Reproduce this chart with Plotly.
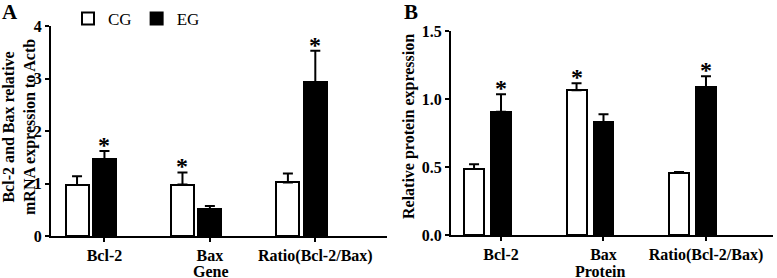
import numpy as np
import plotly.graph_objects as go

categories = ["Bcl-2", "Bax", "Ratio(Bcl-2/Bax)"]
groups = ["CG", "EG"]

# Panel A: mRNA expression
mrna_cg = [0.97, 0.98, 1.02]
mrna_cg_err = [0.17, 0.23, 0.17]
mrna_eg = [1.46, 0.51, 2.93]
mrna_eg_err = [0.16, 0.06, 0.60]
mrna_star_cg = [False, True, False]
mrna_star_eg = [True, False, True]

# Panel B: protein expression
prot_cg = [0.485, 1.064, 0.456]
prot_cg_err = [0.035, 0.051, 0.007]
prot_eg = [0.907, 0.830, 1.088]
prot_eg_err = [0.128, 0.057, 0.079]
prot_star_cg = [False, True, False]
prot_star_eg = [True, False, True]

FONT = "Liberation Serif, Times New Roman, serif"
W, H = 777, 278

fig = go.Figure()
xpos = np.arange(len(categories))


def add_panel(xref, yref, cg, cge, eg, ege, scg, seg, bw, off, showlegend):
    fig.add_trace(go.Bar(
        x=xpos + off, y=cg, width=bw, name=groups[0], showlegend=showlegend,
        marker=dict(color="white", line=dict(color="black", width=2)),
        error_y=dict(type="data", array=cge, arrayminus=[0] * len(cge), symmetric=False,
                     color="black", thickness=2, width=5),
        xaxis=xref, yaxis=yref))
    fig.add_trace(go.Bar(
        x=xpos, y=eg, width=bw, name=groups[1], showlegend=showlegend,
        marker=dict(color="black", line=dict(color="black", width=2)),
        error_y=dict(type="data", array=ege, arrayminus=[0] * len(ege), symmetric=False,
                     color="black", thickness=2, width=5),
        xaxis=xref, yaxis=yref))
    for i in range(len(categories)):
        for vals, errs, stars, dx in ((cg, cge, scg, off), (eg, ege, seg, 0.0)):
            if stars[i]:
                fig.add_annotation(x=xpos[i] + dx, y=vals[i] + errs[i], xref=xref, yref=yref,
                                   text="<b>*</b>", showarrow=False, yanchor="bottom", yshift=-9,
                                   font=dict(family=FONT, size=24, color="black"))


add_panel("x", "y", mrna_cg, mrna_cg_err, mrna_eg, mrna_eg_err,
          mrna_star_cg, mrna_star_eg, 0.218, -0.26, True)
add_panel("x2", "y2", prot_cg, prot_cg_err, prot_eg, prot_eg_err,
          prot_star_cg, prot_star_eg, 0.195, -0.263, False)

tickfont = dict(family=FONT, size=16, color="black")
titlefont = dict(family=FONT, size=16, color="black")

common_x = dict(tickmode="array", tickvals=list(xpos), ticktext=[f"<b>{c}</b>" for c in categories],
                showline=True, linecolor="black", linewidth=2, ticks="outside", ticklen=4,
                tickwidth=2, tickcolor="black", showgrid=False, zeroline=False,
                tickfont=tickfont, automargin=False, tickangle=0)
common_y = dict(showline=True, linecolor="black", linewidth=2, ticks="outside", ticklen=4,
                tickwidth=2, tickcolor="black", showgrid=False, zeroline=False,
                tickfont=tickfont, automargin=False)

fig.update_layout(
    width=W, height=H, margin=dict(l=0, r=0, t=0, b=0, autoexpand=False),
    paper_bgcolor="white", plot_bgcolor="white",
    barmode="overlay", bargap=0,
    font=dict(family=FONT, color="black"),
    xaxis=dict(domain=[51 / W, 387 / W], range=[-0.507, 2.68], anchor="y", **common_x),
    yaxis=dict(domain=[1 - 236 / H, 1 - 26 / H], range=[0, 4], anchor="x",
               tickvals=[0, 1, 2, 3, 4], ticktext=["<b>0</b>", "<b>1</b>", "<b>2</b>", "<b>3</b>", "<b>4</b>"],
               **common_y),
    xaxis2=dict(domain=[451 / W, 773 / W], range=[-0.488, 2.654], anchor="y2", **common_x),
    yaxis2=dict(domain=[1 - 235 / H, 1 - 31 / H], range=[0, 1.5], anchor="x2",
                tickvals=[0, 0.5, 1.0, 1.5], ticktext=["<b>0.0</b>", "<b>0.5</b>", "<b>1.0</b>", "<b>1.5</b>"],
                **common_y),
    legend=dict(orientation="h", x=68 / W, y=1 - 1 / H, xanchor="left", yanchor="top",
                font=dict(family=FONT, size=17, color="black"), bgcolor="rgba(0,0,0,0)",
                itemwidth=30, tracegroupgap=0),
    showlegend=True,
)

# axis titles
fig.add_annotation(x=211 / W, y=0, xref="paper", yref="paper", xanchor="center", yanchor="bottom",
                   yshift=-3, borderpad=0, text="<b>Gene</b>", showarrow=False, font=titlefont)
fig.add_annotation(x=600 / W, y=0, xref="paper", yref="paper", xanchor="center", yanchor="bottom",
                   yshift=-3, borderpad=0, text="<b>Protein</b>", showarrow=False, font=titlefont)
fig.add_annotation(x=19 / W, y=1 - 127 / H, xref="paper", yref="paper", xanchor="center", yanchor="middle",
                   borderpad=0, text="<b>Bcl-2 and Bax relative<br>mRNA expression to Actb</b>", textangle=-90,
                   showarrow=False, font=titlefont)
fig.add_annotation(x=409 / W, y=1 - 127 / H, xref="paper", yref="paper", xanchor="center", yanchor="middle",
                   text="<b>Relative protein expression</b>", textangle=-90,
                   showarrow=False, font=titlefont)

# panel letters
fig.add_annotation(x=0, y=1 + 2 / H, xref="paper", yref="paper", xanchor="left", yanchor="top",
                   text="<b>A</b>", showarrow=False, font=dict(family=FONT, size=21, color="black"))
fig.add_annotation(x=402 / W, y=1 + 2 / H, xref="paper", yref="paper", xanchor="left", yanchor="top",
                   text="<b>B</b>", showarrow=False, font=dict(family=FONT, size=21, color="black"))

fig.write_html("out.html", config={"displayModeBar": False},
               post_script="document.body.style.margin='0';document.body.style.padding='0';"
                           "document.body.style.overflow='hidden';")
